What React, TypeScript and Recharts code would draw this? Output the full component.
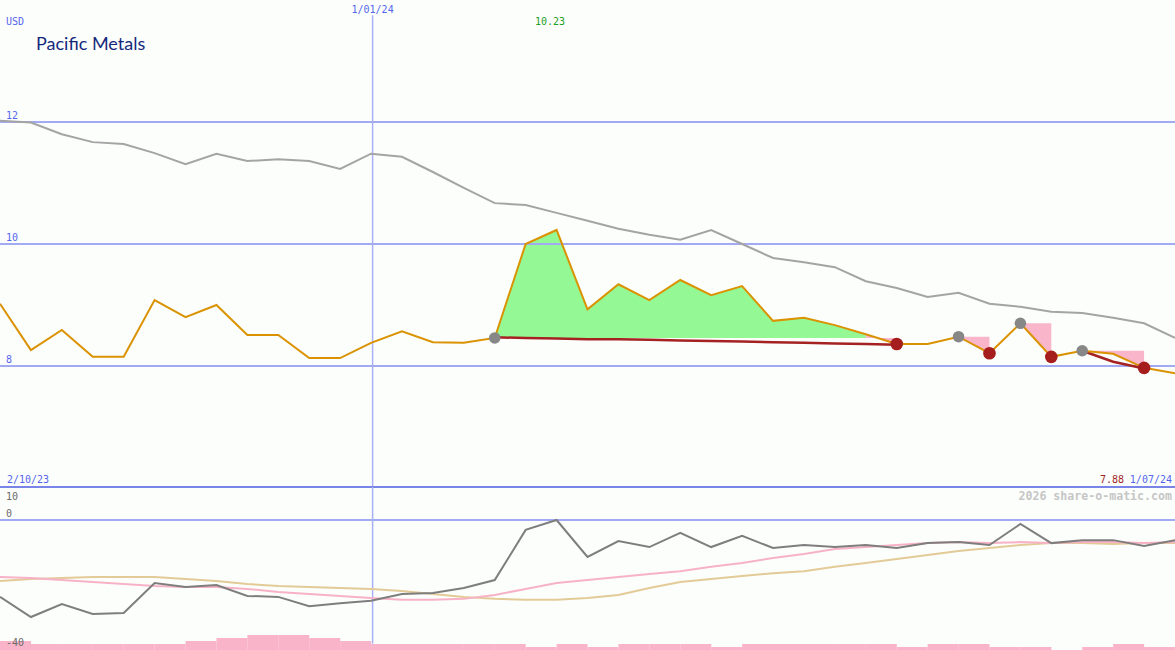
import React from 'react';
import { ComposedChart, BarChart, Bar, Line, Area, XAxis, YAxis, ReferenceLine } from 'recharts';

// page geometry
const W = 1175;
const H = 650;
const MAIN_H = 488;
const LOWER_TOP = 485;
const LOWER_H = 167;
const VOL_TOP = 620;
const VOL_H = 30;

// labels
const title = 'Pacific Metals';
const currency = 'USD';
const startDate = '2/10/23';
const endDate = '1/07/24';
const markerDate = '1/01/24';
const markerIndex = 12.05;
const credit = '2026 share-o-matic.com';

// price panel
const priceTicks = [12, 10, 8];
const closePrice = [
  9.02, 8.26, 8.59, 8.15, 8.15, 9.08, 8.8, 9.0, 8.51, 8.51, 8.13, 8.13, 8.38, 8.57, 8.39, 8.38,
  8.46, 10.0, 10.23, 8.93, 9.34, 9.08, 9.41, 9.16, 9.31, 8.74, 8.79, 8.67, 8.52, 8.36, 8.36, 8.48,
  8.21, 8.7, 8.15, 8.25, 8.2, 7.97, 7.88,
];
const movingAvg = [
  12.02, 11.99, 11.8, 11.67, 11.64, 11.49, 11.31, 11.48, 11.36, 11.39, 11.36, 11.23, 11.48, 11.43,
  11.18, 10.92, 10.67, 10.64, 10.51, 10.38, 10.25, 10.15, 10.07, 10.23, 10.0, 9.77, 9.7, 9.62, 9.39,
  9.28, 9.13, 9.2, 9.02, 8.97, 8.89, 8.87, 8.79, 8.7, 8.46,
];
const stopLevel: (number | null)[] = [
  null, null, null, null, null, null, null, null, null, null, null, null, null, null, null, null,
  8.47, 8.46, 8.45, 8.44, 8.44, 8.43, 8.42, 8.41, 8.4, 8.39, 8.38, 8.37, 8.36, 8.35,
  null, null, null, null, null, 8.25, 8.07, 7.96, null,
];
const tradeEntries = [16, 31, 33, 35];
const tradeExits = [29, 32, 34, 37];

// lower panel
const oscTicks = [10, 0, -40];
const oscFast = [
  -23.3, -29.4, -25.5, -28.5, -28.2, -19.1, -20.3, -19.7, -23.0, -23.3, -26.1, -25.2, -24.5, -22.4,
  -22.1, -20.6, -18.2, -3.0, 0.0, -11.2, -6.4, -8.2, -3.9, -8.2, -4.8, -8.5, -7.6, -8.2, -7.6, -8.5,
  -7.0, -6.7, -7.6, -1.2, -7.0, -6.1, -6.1, -7.9, -6.1,
];
const oscSignal = [
  -17.3, -17.6, -18.2, -18.8, -19.4, -20.0, -20.3, -20.3, -20.9, -21.8, -22.4, -23.0, -23.6, -24.2,
  -24.2, -23.9, -22.7, -20.9, -19.1, -18.2, -17.3, -16.4, -15.5, -14.2, -13.0, -11.5, -10.3, -8.8,
  -8.2, -7.6, -7.0, -6.7, -7.0, -6.7, -7.0, -6.7, -6.7, -7.0, -6.7,
];
const oscSlow = [
  -18.5, -17.9, -17.6, -17.3, -17.3, -17.3, -17.9, -18.5, -19.4, -20.0, -20.3, -20.6, -20.9, -21.5,
  -22.4, -23.3, -23.9, -24.2, -24.2, -23.6, -22.7, -20.6, -18.8, -17.9, -17.0, -16.1, -15.5, -14.2,
  -13.0, -11.8, -10.6, -9.4, -8.5, -7.6, -7.0, -7.0, -7.3, -7.0, -7.0,
];
const volume = [
  3, 2, 2, 2, 2, 2, 3, 4, 5, 5, 4, 3, 2, 2, 2, 2, 2, 1, 2, 1, 2, 2, 2, 1, 2, 2, 2, 2, 2, 1, 2, 2, 1,
  1, 0, 1, 2, 1,
];

// colours
const BG = '#fcfefc';
const GRID = '#a2aaf4';
const SEP = '#7884e8';
const VLINE = '#a8b0f6';
const BLUE_TEXT = '#5566ee';
const GAIN = '#94f994';
const LOSS = '#f9b6cb';
const MONO = '"DejaVu Sans Mono", monospace';

const lastIndex = closePrice.length - 1;

const rows: any[] = closePrice.map((price, i) => ({
  i,
  price,
  avg: movingAvg[i],
  stop: stopLevel[i],
  entry: tradeEntries.includes(i) ? price : null,
  exit: tradeExits.includes(i) ? price : null,
  osc: oscFast[i],
  sig: oscSignal[i],
  slow: oscSlow[i],
}));

// split every trade into runs above (green) / below (pink) its entry price
const fillRuns: { key: string; color: string; from: number; to: number; level: number }[] = [];
tradeEntries.forEach((entry, k) => {
  const exit = tradeExits[k];
  const level = closePrice[entry];
  let start = entry;
  for (let i = entry + 1; i <= exit; i++) {
    const up = closePrice[i] > level;
    if (i === exit || closePrice[i + 1] > level !== up) {
      fillRuns.push({ key: `fill${fillRuns.length}`, color: up ? GAIN : LOSS, from: start, to: i, level });
      start = i;
    }
  }
});
fillRuns.forEach((run) => {
  for (let j = run.from; j <= run.to; j++) rows[j][run.key] = [run.level, closePrice[j]];
});

const volRows = volume.map((v, i) => ({ i, v }));

const maxPrice = Math.max(...closePrice);

const PriceTick = (props: any) => (
  <text x={6} y={props.y - 3} fontSize={10} fontFamily={MONO} fill={BLUE_TEXT}>
    {props.payload.value}
  </text>
);

const OscTick = (props: any) => {
  const v = props.payload.value;
  const dy = v === oscTicks[0] ? 13 : v === oscTicks[2] ? -6 : -3;
  return (
    <text x={6} y={props.y + dy} fontSize={10} fontFamily={MONO} fill="#6a6a6a">
      {v}
    </text>
  );
};

const noMargin = { top: 0, right: 0, bottom: 0, left: 0 };

export default function App() {
  return (
    <div style={{ position: 'absolute', left: 0, top: 0, width: W, height: H, overflow: 'hidden', background: BG }}>
      <div style={{ position: 'absolute', left: 0, top: 0 }}>
        <ComposedChart width={W} height={MAIN_H} data={rows} margin={noMargin}>
          <XAxis dataKey="i" type="number" domain={[0, lastIndex]} hide />
          <YAxis
            domain={[6, 14]}
            ticks={priceTicks}
            interval={0}
            mirror
            axisLine={false}
            tickLine={false}
            tick={PriceTick}
          />
          {priceTicks.map((v) => (
            <ReferenceLine key={v} y={v} stroke={GRID} strokeWidth={2} />
          ))}
          <ReferenceLine
            segment={[
              { x: markerIndex, y: 13.75 },
              { x: markerIndex, y: 6 },
            ]}
            stroke={VLINE}
            strokeWidth={1.5}
            label={{ value: markerDate, position: 'top', offset: 2, fill: BLUE_TEXT, fontSize: 10, fontFamily: MONO }}
          />
          {fillRuns.map((run) => (
            <Area
              key={run.key}
              dataKey={run.key}
              type="linear"
              stroke="none"
              fill={run.color}
              fillOpacity={1}
              dot={false}
              activeDot={false}
              isAnimationActive={false}
            />
          ))}
          <Line dataKey="avg" type="linear" stroke="#a4a4a4" strokeWidth={2} dot={false} activeDot={false} isAnimationActive={false} />
          <Line dataKey="stop" type="linear" stroke="#a42222" strokeWidth={2.5} dot={false} activeDot={false} isAnimationActive={false} />
          <Line
            dataKey="entry"
            stroke="none"
            dot={{ r: 5.8, fill: '#878787', stroke: 'none' }}
            activeDot={false}
            isAnimationActive={false}
          />
          <Line
            dataKey="exit"
            stroke="none"
            dot={{ r: 6.3, fill: '#a51d1d', stroke: 'none' }}
            activeDot={false}
            isAnimationActive={false}
          />
          <Line dataKey="price" type="linear" stroke="#da9200" strokeWidth={2} dot={false} activeDot={false} isAnimationActive={false} />
        </ComposedChart>
      </div>

      <div style={{ position: 'absolute', left: 0, top: VOL_TOP }}>
        <BarChart width={W} height={VOL_H} data={volRows} margin={noMargin} barCategoryGap={0} barGap={0}>
          <XAxis dataKey="i" hide />
          <YAxis domain={[0, 10]} hide />
          <Bar dataKey="v" fill="#f9b4c9" isAnimationActive={false} />
        </BarChart>
      </div>

      <div style={{ position: 'absolute', left: 0, top: LOWER_TOP }}>
        <ComposedChart width={W} height={LOWER_H} data={rows} margin={{ top: 2, right: 0, bottom: 0, left: 0 }}>
          <XAxis dataKey="i" type="number" domain={[0, lastIndex]} hide />
          <YAxis
            domain={[-40, 10]}
            ticks={oscTicks}
            interval={0}
            mirror
            axisLine={false}
            tickLine={false}
            tick={OscTick}
          />
          <ReferenceLine y={10} stroke={SEP} strokeWidth={2} />
          <ReferenceLine y={0} stroke={GRID} strokeWidth={2} />
          <ReferenceLine
            segment={[
              { x: markerIndex, y: 10 },
              { x: markerIndex, y: -37.5 },
            ]}
            stroke={VLINE}
            strokeWidth={1.5}
          />
          <Line dataKey="slow" type="linear" stroke="#e3cb98" strokeWidth={2} dot={false} activeDot={false} isAnimationActive={false} />
          <Line dataKey="sig" type="linear" stroke="#f7b2c7" strokeWidth={2} dot={false} activeDot={false} isAnimationActive={false} />
          <Line dataKey="osc" type="linear" stroke="#7e7e7e" strokeWidth={2} dot={false} activeDot={false} isAnimationActive={false} />
        </ComposedChart>
      </div>

      <svg width={W} height={H} style={{ position: 'absolute', left: 0, top: 0, pointerEvents: 'none' }}>
        <text x={6} y={25} fontSize={10} fontFamily={MONO} fill={BLUE_TEXT}>{currency}</text>
        <text x={36} y={50} fontSize={18} fontFamily="Lato, 'Liberation Sans', sans-serif" fill="#15297c">{title}</text>
        <text x={550} y={25} fontSize={10} fontFamily={MONO} fill="#1f9f1f" textAnchor="middle">{maxPrice.toFixed(2)}</text>
        <text x={7} y={483} fontSize={10} fontFamily={MONO} fill={BLUE_TEXT}>{startDate}</text>
        <text x={1124} y={483} fontSize={10} fontFamily={MONO} fill="#a11f1f" textAnchor="end">{closePrice[lastIndex].toFixed(2)}</text>
        <text x={1172} y={483} fontSize={10} fontFamily={MONO} fill={BLUE_TEXT} textAnchor="end">{endDate}</text>
        <text x={1172} y={500} fontSize={11.6} fontWeight="bold" fontFamily={MONO} fill="#c6c6c6" textAnchor="end">{credit}</text>
      </svg>
    </div>
  );
}
